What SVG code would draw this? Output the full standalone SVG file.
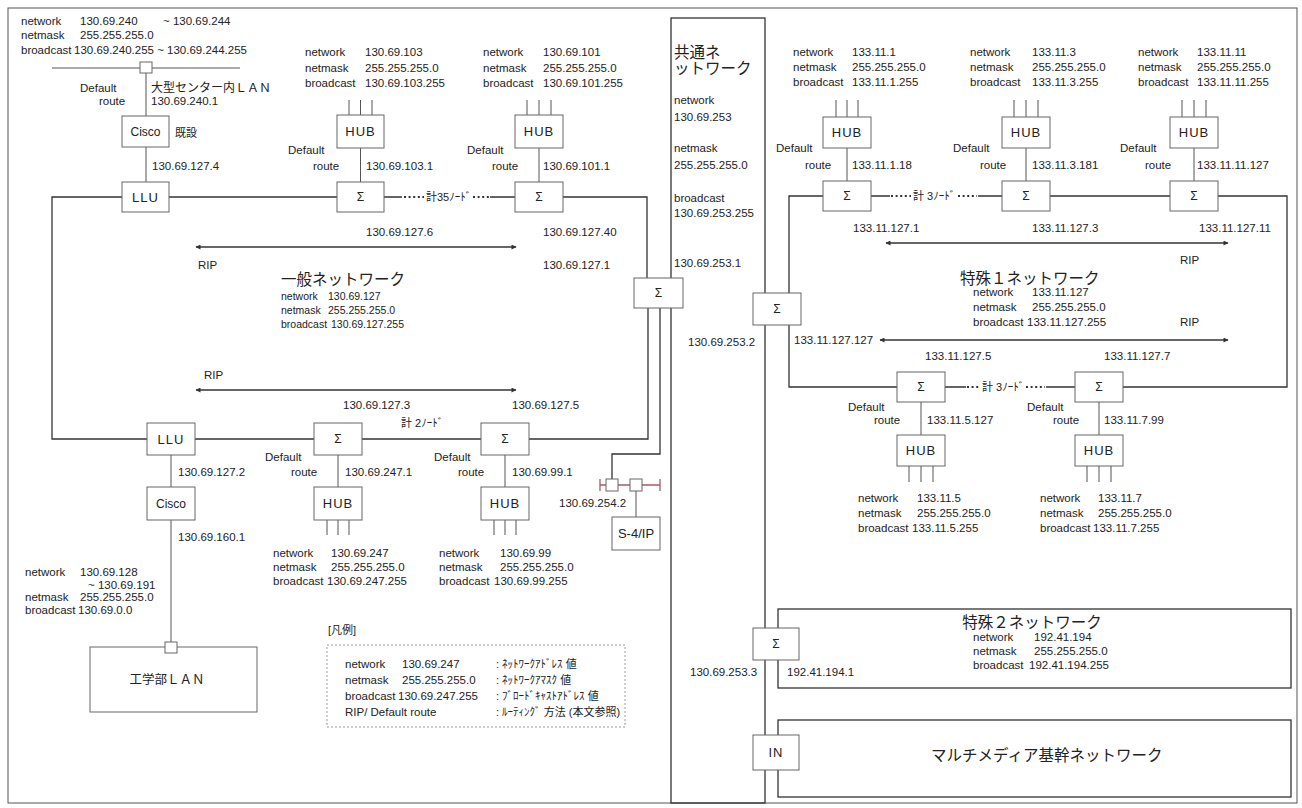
<svg xmlns="http://www.w3.org/2000/svg" width="1302" height="808" viewBox="0 0 1302 808">
  <style>
    text { font-family: "Liberation Sans", "Noto Sans CJK JP", sans-serif; fill: #222; dominant-baseline: central; }
    .t { font-size: 11.5px; }
    .n { font-size: 10.5px; }
    .jp { font-size: 11px; }
    .ttl { font-size: 15.5px; }
    .lbl { font-size: 13px; text-anchor: middle; letter-spacing: 1px; }
    .sig { font-size: 12px; text-anchor: middle; }
    .box { fill: #fff; stroke: #666; stroke-width: 1; }
    .ln { fill: none; stroke: #333; stroke-width: 1.3; }
    .thin { fill: none; stroke: #555; stroke-width: 1; }
    .dots { fill: none; stroke: #333; stroke-width: 2; stroke-dasharray: 2 2.6; }
    .arr { fill: none; stroke: #333; stroke-width: 1.5; marker-start: url(#ah); marker-end: url(#ah); }
    .bus { fill: none; stroke: #a85a6a; stroke-width: 1.3; }
  </style>
  <defs>
    <marker id="ah" viewBox="0 0 10 10" refX="9" refY="5" markerWidth="7" markerHeight="5" orient="auto-start-reverse" markerUnits="userSpaceOnUse">
      <path d="M0,0 L10,5 L0,10 z" fill="#333"/>
    </marker>
  </defs>
  <rect width="1302" height="808" fill="#fff"/>
  <!-- outer frame -->
  <rect x="8" y="8" width="1289" height="795" class="thin"/>

  <!-- common network column -->
  <g id="common-net">
    <rect x="671" y="18" width="94" height="785" class="ln" fill="none"/>
    <text x="674" y="52" class="ttl">共通ネ</text>
    <text x="674" y="68" class="ttl">ットワーク</text>
    <text x="674" y="100" class="t">network</text>
    <text x="674" y="117" class="t">130.69.253</text>
    <text x="674" y="148" class="t">netmask</text>
    <text x="674" y="165" class="t">255.255.255.0</text>
    <text x="674" y="198" class="t">broadcast</text>
    <text x="674" y="213" class="t">130.69.253.255</text>
    <text x="674" y="263" class="t">130.69.253.1</text>
    <text x="688" y="342" class="t">130.69.253.2</text>
    <text x="690" y="672" class="t">130.69.253.3</text>
  </g>

  <!-- connectors -->
  <g id="connectors">
    <!-- centre LAN bus -->
    <line x1="52" y1="68" x2="240" y2="68" class="thin"/>
    <path d="M146,73 V116 M146,147 V182" class="thin"/>
    <!-- general network ring -->
    <path d="M122,197 H52 V439 H147" class="ln"/>
    <path d="M169,197 H337" class="ln"/>
    <path d="M384,197 H402 M490,197 H515" class="ln"/>
    <path d="M404,197 H424 M473,197 H489" class="dots"/>
    <path d="M563,197 H647 V278" class="ln"/>
    <path d="M648,308 V439 H529 M481,439 H362 M314,439 H195" class="ln"/>
    <path d="M660,308 V454 H612 V479" class="ln"/>
    <path d="M360.5,148 V182 M539,148 V182" class="thin"/>
    <path d="M349,100 V115 M360.5,100 V115 M372,100 V115 M527,100 V115 M539,100 V115 M551,100 V115" class="thin"/>
    <path d="M338,455 V487 M505,455 V487" class="thin"/>
    <path d="M327,520 V535 M338,520 V535 M349,520 V535 M494,520 V535 M505,520 V535 M516,520 V535" class="thin"/>
    <path d="M171,455 V487 M171,520 V642" class="thin"/>
    <!-- S-4/IP bus -->
    <path d="M600,485 H606 M618,485 H630 M642,485 H660 M600,479 V491 M660,479 V491" class="bus"/>
    <path d="M636,491 V517" class="thin"/>
    <!-- special 1 ring -->
    <path d="M823,196 H789 V387 H897" class="ln"/>
    <path d="M871,196 H890 M978,196 H1002" class="ln"/>
    <path d="M891,196 H911 M958,196 H977" class="dots"/>
    <path d="M1050,196 H1170 M1218,196 H1287 V387 H1123" class="ln"/>
    <path d="M945,387 H966 M1046,387 H1075" class="ln"/>
    <path d="M967,387 H980 M1026,387 H1045" class="dots"/>
    <path d="M847,148 V181 M1026,148 V181 M1194,148 V181" class="thin"/>
    <path d="M836,100 V117 M847,100 V117 M858,100 V117 M1014,100 V117 M1026,100 V117 M1038,100 V117 M1182,100 V117 M1194,100 V117 M1206,100 V117" class="thin"/>
    <path d="M921,402 V435 M1099,402 V435" class="thin"/>
    <path d="M909,466 V482 M921,466 V482 M933,466 V482 M1087,466 V482 M1099,466 V482 M1111,466 V482" class="thin"/>
    <!-- RIP arrows -->
    <line x1="196" y1="247" x2="516" y2="247" class="arr"/>
    <line x1="196" y1="390" x2="516" y2="390" class="arr"/>
    <line x1="886" y1="243" x2="1228" y2="243" class="arr"/>
    <line x1="880" y1="340" x2="1228" y2="340" class="arr"/>
  </g>

  <!-- centre LAN (existing) -->
  <g id="center-lan">
    <rect x="140" y="62" width="12" height="11" class="box"/>
    <text x="21" y="21" class="t">network</text>
    <text x="80" y="21" class="t">130.69.240</text>
    <text x="163" y="21" class="t">~ 130.69.244</text>
    <text x="21" y="35" class="t">netmask</text>
    <text x="80" y="35" class="t">255.255.255.0</text>
    <text x="21" y="50" class="t">broadcast</text>
    <text x="74" y="50" class="t">130.69.240.255 ~ 130.69.244.255</text>
    <text x="80" y="88" class="t">Default</text>
    <text x="99" y="101" class="t">route</text>
    <text x="151" y="88" style="font-size:12px">大型センター内ＬＡＮ</text>
    <text x="151" y="101" class="t">130.69.240.1</text>
  </g>
  <g id="cisco-1">
    <rect x="122" y="116" width="47" height="31" class="box"/>
    <text x="145.5" y="132" class="lbl" style="letter-spacing:0;font-size:12px">Cisco</text>
    <text x="175" y="133" class="jp">既設</text>
    <text x="152" y="166" class="t">130.69.127.4</text>
  </g>
  <g id="llu-1">
    <rect x="122" y="182" width="47" height="30" class="box"/>
    <text x="145.5" y="197" class="lbl">LLU</text>
  </g>

  <!-- general network routers and hubs -->
  <g id="hub-103">
    <text x="305" y="52" class="t">network</text>
    <text x="365" y="52" class="t">130.69.103</text>
    <text x="305" y="68" class="t">netmask</text>
    <text x="365" y="68" class="t">255.255.255.0</text>
    <text x="305" y="83" class="t">broadcast</text>
    <text x="365" y="83" class="t">130.69.103.255</text>
    <rect x="337" y="115" width="47" height="33" class="box"/>
    <text x="360.5" y="131.5" class="lbl">HUB</text>
    <text x="288" y="150" class="t">Default</text>
    <text x="313" y="166" class="t">route</text>
    <text x="366" y="166" class="t">130.69.103.1</text>
  </g>
  <g id="sigma-127-6">
    <rect x="337" y="182" width="47" height="30" class="box"/>
    <text x="360.5" y="197" class="sig">Σ</text>
    <text x="366" y="232" class="t">130.69.127.6</text>
  </g>
  <g id="hub-101">
    <text x="483" y="52" class="t">network</text>
    <text x="543" y="52" class="t">130.69.101</text>
    <text x="483" y="68" class="t">netmask</text>
    <text x="543" y="68" class="t">255.255.255.0</text>
    <text x="483" y="83" class="t">broadcast</text>
    <text x="543" y="83" class="t">130.69.101.255</text>
    <rect x="515" y="115" width="48" height="33" class="box"/>
    <text x="539" y="131.5" class="lbl">HUB</text>
    <text x="467" y="150" class="t">Default</text>
    <text x="492" y="166" class="t">route</text>
    <text x="543" y="166" class="t">130.69.101.1</text>
  </g>
  <g id="sigma-127-40">
    <rect x="515" y="182" width="48" height="30" class="box"/>
    <text x="539" y="197" class="sig">Σ</text>
    <text x="543" y="232" class="t">130.69.127.40</text>
  </g>
  <text x="426" y="197" class="jp">計35ﾉｰﾄﾞ</text>

  <g id="general-net">
    <text x="198" y="265" class="t">RIP</text>
    <text x="543" y="265" class="t">130.69.127.1</text>
    <text x="281" y="279" class="ttl">一般ネットワーク</text>
    <text x="281" y="296" class="n">network</text>
    <text x="328" y="296" class="n">130.69.127</text>
    <text x="281" y="310" class="n">netmask</text>
    <text x="328" y="310" class="n">255.255.255.0</text>
    <text x="281" y="324" class="n">broadcast</text>
    <text x="331" y="324" class="n">130.69.127.255</text>
    <text x="204" y="375" class="t">RIP</text>
    <text x="401" y="423" class="jp">計 2ﾉｰﾄﾞ</text>
  </g>
  <g id="sigma-common-1">
    <rect x="634" y="278" width="49" height="30" class="box"/>
    <text x="658.5" y="293" class="sig">Σ</text>
  </g>

  <g id="llu-2">
    <rect x="147" y="423" width="48" height="32" class="box"/>
    <text x="171" y="439" class="lbl">LLU</text>
    <text x="178" y="472" class="t">130.69.127.2</text>
  </g>
  <g id="cisco-2">
    <rect x="147" y="487" width="48" height="33" class="box"/>
    <text x="171" y="503.5" class="lbl" style="letter-spacing:0;font-size:12px">Cisco</text>
    <text x="178" y="537" class="t">130.69.160.1</text>
  </g>
  <g id="sigma-127-3">
    <rect x="314" y="423" width="48" height="32" class="box"/>
    <text x="338" y="439" class="sig">Σ</text>
    <text x="343" y="405" class="t">130.69.127.3</text>
    <text x="265" y="457" class="t">Default</text>
    <text x="291" y="472" class="t">route</text>
    <text x="345" y="472" class="t">130.69.247.1</text>
  </g>
  <g id="hub-247">
    <rect x="314" y="487" width="48" height="33" class="box"/>
    <text x="338" y="503.5" class="lbl">HUB</text>
    <text x="273" y="553" class="t">network</text>
    <text x="331" y="553" class="t">130.69.247</text>
    <text x="273" y="567" class="t">netmask</text>
    <text x="331" y="567" class="t">255.255.255.0</text>
    <text x="273" y="581" class="t">broadcast</text>
    <text x="327" y="581" class="t">130.69.247.255</text>
  </g>
  <g id="sigma-127-5">
    <rect x="481" y="423" width="48" height="32" class="box"/>
    <text x="505" y="439" class="sig">Σ</text>
    <text x="512" y="405" class="t">130.69.127.5</text>
    <text x="434" y="457" class="t">Default</text>
    <text x="458" y="472" class="t">route</text>
    <text x="512" y="472" class="t">130.69.99.1</text>
  </g>
  <g id="hub-99">
    <rect x="481" y="487" width="48" height="33" class="box"/>
    <text x="505" y="503.5" class="lbl">HUB</text>
    <text x="439" y="553" class="t">network</text>
    <text x="500" y="553" class="t">130.69.99</text>
    <text x="439" y="567" class="t">netmask</text>
    <text x="500" y="567" class="t">255.255.255.0</text>
    <text x="439" y="581" class="t">broadcast</text>
    <text x="494" y="581" class="t">130.69.99.255</text>
  </g>
  <g id="s4-ip">
    <rect x="606" y="479" width="12" height="12" class="box"/>
    <rect x="630" y="479" width="12" height="12" class="box"/>
    <text x="559" y="503" class="t">130.69.254.2</text>
    <rect x="612" y="517" width="48" height="33" class="box"/>
    <text x="636" y="533.5" class="lbl" style="letter-spacing:0">S-4/IP</text>
  </g>

  <g id="eng-lan">
    <text x="25" y="572" class="t">network</text>
    <text x="80" y="572" class="t">130.69.128</text>
    <text x="88" y="585" class="t">~ 130.69.191</text>
    <text x="25" y="597" class="t">netmask</text>
    <text x="80" y="597" class="t">255.255.255.0</text>
    <text x="25" y="610" class="t">broadcast</text>
    <text x="78" y="610" class="t">130.69.0.0</text>
    <rect x="90" y="647" width="167" height="65" class="box"/>
    <rect x="165" y="642" width="12" height="11" class="box"/>
    <text x="167" y="680" style="font-size:12.5px;text-anchor:middle">工学部ＬＡＮ</text>
  </g>

  <!-- legend -->
  <g id="legend">
    <text x="328" y="630" class="jp">[凡例]</text>
    <rect x="327" y="645" width="298" height="82" fill="none" stroke="#999" stroke-width="1" stroke-dasharray="2 2"/>
    <text x="345" y="664" class="t">network</text>
    <text x="402" y="664" class="t">130.69.247</text>
    <text x="496" y="664" class="jp">:  ﾈｯﾄﾜｰｸｱﾄﾞﾚｽ 値</text>
    <text x="345" y="680" class="t">netmask</text>
    <text x="402" y="680" class="t">255.255.255.0</text>
    <text x="496" y="680" class="jp">:  ﾈｯﾄﾜｰｸｱﾏｽｸ 値</text>
    <text x="345" y="696" class="t">broadcast</text>
    <text x="398" y="696" class="t">130.69.247.255</text>
    <text x="496" y="696" class="jp">:  ﾌﾞﾛｰﾄﾞｷｬｽﾄｱﾄﾞﾚｽ 値</text>
    <text x="345" y="712" class="t">RIP/ Default route</text>
    <text x="496" y="712" class="jp">:  ﾙｰﾃｨﾝｸﾞ 方法 (本文参照)</text>
  </g>

  <!-- special 1 network -->
  <g id="sigma-common-2">
    <rect x="753" y="293" width="48" height="32" class="box"/>
    <text x="777" y="309" class="sig">Σ</text>
  </g>
  <g id="hub-133-11-1">
    <text x="793" y="52" class="t">network</text>
    <text x="852" y="52" class="t">133.11.1</text>
    <text x="793" y="67" class="t">netmask</text>
    <text x="852" y="67" class="t">255.255.255.0</text>
    <text x="793" y="82" class="t">broadcast</text>
    <text x="852" y="82" class="t">133.11.1.255</text>
    <rect x="823" y="117" width="48" height="31" class="box"/>
    <text x="847" y="132.5" class="lbl">HUB</text>
    <text x="776" y="148" class="t">Default</text>
    <text x="805" y="165" class="t">route</text>
    <text x="852" y="165" class="t">133.11.1.18</text>
  </g>
  <g id="sigma-133-11-127-1">
    <rect x="823" y="181" width="48" height="30" class="box"/>
    <text x="847" y="196" class="sig">Σ</text>
    <text x="853" y="228" class="t">133.11.127.1</text>
  </g>
  <text x="913" y="196" class="jp">計 3ﾉｰﾄﾞ</text>
  <g id="hub-133-11-3">
    <text x="970" y="52" class="t">network</text>
    <text x="1032" y="52" class="t">133.11.3</text>
    <text x="970" y="67" class="t">netmask</text>
    <text x="1032" y="67" class="t">255.255.255.0</text>
    <text x="970" y="82" class="t">broadcast</text>
    <text x="1032" y="82" class="t">133.11.3.255</text>
    <rect x="1002" y="117" width="48" height="31" class="box"/>
    <text x="1026" y="132.5" class="lbl">HUB</text>
    <text x="953" y="148" class="t">Default</text>
    <text x="980" y="165" class="t">route</text>
    <text x="1032" y="165" class="t">133.11.3.181</text>
  </g>
  <g id="sigma-133-11-127-3">
    <rect x="1002" y="181" width="48" height="30" class="box"/>
    <text x="1026" y="196" class="sig">Σ</text>
    <text x="1032" y="228" class="t">133.11.127.3</text>
  </g>
  <g id="hub-133-11-11">
    <text x="1138" y="52" class="t">network</text>
    <text x="1197" y="52" class="t">133.11.11</text>
    <text x="1138" y="67" class="t">netmask</text>
    <text x="1197" y="67" class="t">255.255.255.0</text>
    <text x="1138" y="82" class="t">broadcast</text>
    <text x="1197" y="82" class="t">133.11.11.255</text>
    <rect x="1170" y="117" width="48" height="31" class="box"/>
    <text x="1194" y="132.5" class="lbl">HUB</text>
    <text x="1120" y="148" class="t">Default</text>
    <text x="1145" y="165" class="t">route</text>
    <text x="1197" y="165" class="t">133.11.11.127</text>
  </g>
  <g id="sigma-133-11-127-11">
    <rect x="1170" y="181" width="48" height="30" class="box"/>
    <text x="1194" y="196" class="sig">Σ</text>
    <text x="1199" y="228" class="t">133.11.127.11</text>
  </g>
  <g id="special1-net">
    <text x="1180" y="260" class="t">RIP</text>
    <text x="960" y="278" class="ttl">特殊１ネットワーク</text>
    <text x="973" y="292" class="t">network</text>
    <text x="1032" y="292" class="t">133.11.127</text>
    <text x="973" y="307" class="t">netmask</text>
    <text x="1032" y="307" class="t">255.255.255.0</text>
    <text x="973" y="322" class="t">broadcast</text>
    <text x="1027" y="322" class="t">133.11.127.255</text>
    <text x="1180" y="322" class="t">RIP</text>
    <text x="794" y="340" class="t">133.11.127.127</text>
  </g>
  <g id="sigma-133-11-127-5">
    <rect x="897" y="372" width="48" height="30" class="box"/>
    <text x="921" y="387" class="sig">Σ</text>
    <text x="925" y="356" class="t">133.11.127.5</text>
    <text x="848" y="407" class="t">Default</text>
    <text x="874" y="420" class="t">route</text>
    <text x="927" y="420" class="t">133.11.5.127</text>
  </g>
  <text x="982" y="387" class="jp">計 3ﾉｰﾄﾞ</text>
  <g id="hub-133-11-5">
    <rect x="897" y="435" width="48" height="31" class="box"/>
    <text x="921" y="450.5" class="lbl">HUB</text>
    <text x="858" y="498" class="t">network</text>
    <text x="917" y="498" class="t">133.11.5</text>
    <text x="858" y="513" class="t">netmask</text>
    <text x="917" y="513" class="t">255.255.255.0</text>
    <text x="858" y="528" class="t">broadcast</text>
    <text x="912" y="528" class="t">133.11.5.255</text>
  </g>
  <g id="sigma-133-11-127-7">
    <rect x="1075" y="372" width="48" height="30" class="box"/>
    <text x="1099" y="387" class="sig">Σ</text>
    <text x="1104" y="356" class="t">133.11.127.7</text>
    <text x="1027" y="407" class="t">Default</text>
    <text x="1053" y="420" class="t">route</text>
    <text x="1104" y="420" class="t">133.11.7.99</text>
  </g>
  <g id="hub-133-11-7">
    <rect x="1075" y="435" width="48" height="31" class="box"/>
    <text x="1099" y="450.5" class="lbl">HUB</text>
    <text x="1040" y="498" class="t">network</text>
    <text x="1098" y="498" class="t">133.11.7</text>
    <text x="1040" y="513" class="t">netmask</text>
    <text x="1098" y="513" class="t">255.255.255.0</text>
    <text x="1040" y="528" class="t">broadcast</text>
    <text x="1093" y="528" class="t">133.11.7.255</text>
  </g>

  <!-- special 2 network -->
  <g id="special2-net">
    <rect x="778" y="609" width="513" height="79" class="ln" fill="#fff"/>
    <text x="1032" y="622" class="ttl" style="text-anchor:middle">特殊２ネットワーク</text>
    <text x="973" y="637" class="t">network</text>
    <text x="1034" y="637" class="t">192.41.194</text>
    <text x="973" y="651" class="t">netmask</text>
    <text x="1034" y="651" class="t">255.255.255.0</text>
    <text x="973" y="665" class="t">broadcast</text>
    <text x="1029" y="665" class="t">192.41.194.255</text>
    <text x="787" y="672" class="t">192.41.194.1</text>
  </g>
  <g id="sigma-special2">
    <rect x="753" y="628" width="46" height="32" class="box"/>
    <text x="776" y="644" class="sig">Σ</text>
  </g>

  <!-- multimedia backbone -->
  <g id="multimedia-net">
    <rect x="778" y="720" width="513" height="77" class="ln" fill="#fff"/>
    <text x="931" y="755" class="ttl">マルチメディア基幹ネットワーク</text>
  </g>
  <g id="in-node">
    <rect x="753" y="735" width="46" height="35" class="box"/>
    <text x="776" y="752.5" class="lbl">IN</text>
  </g>
</svg>
